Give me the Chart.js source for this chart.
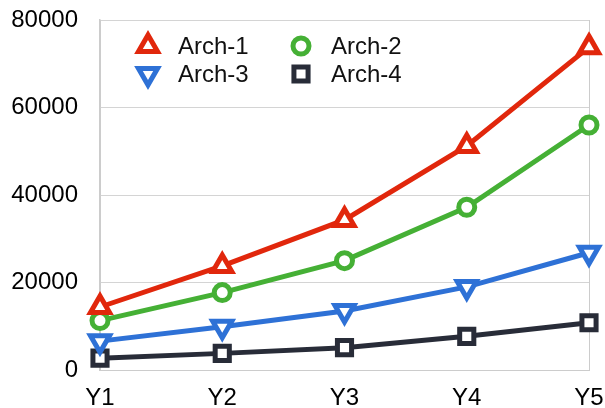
<!DOCTYPE html>
<html><head><meta charset="utf-8">
<script src="https://cdn.jsdelivr.net/npm/chart.js@4/dist/chart.umd.min.js"></script>
<style>html,body{margin:0;padding:0;background:#fff}#wrap{width:605px;height:408px}</style>
</head><body><div id="wrap"><canvas id="c" width="605" height="408"></canvas></div>
<script>
const categories = ['Y1', 'Y2', 'Y3', 'Y4', 'Y5'];
const seriesLabels = ['Arch-1', 'Arch-2', 'Arch-3', 'Arch-4'];
const arch1 = [14400, 23800, 34300, 51200, 73800];
const arch2 = [11300, 17700, 25000, 37200, 56000];
const arch3 = [6600, 9900, 13500, 19000, 26800];
const arch4 = [2700, 3800, 5100, 7700, 10800];
const yTickValues = [0, 20000, 40000, 60000, 80000];

const FONT = '"Liberation Sans", Arial, Helvetica, sans-serif';
const colors = ['#e1270c', '#45b035', '#2e71d6', '#282c38'];

function ds(label, data, color, style, radius, rotation) {
  return {
    label, data,
    borderColor: color, backgroundColor: color,
    borderWidth: 5, tension: 0,
    pointStyle: style, pointRadius: radius, pointHoverRadius: radius,
    pointRotation: rotation,
    pointBorderColor: color, pointBackgroundColor: '#ffffff', pointBorderWidth: 5,
    clip: false
  };
}

const insetLegend = {
  id: 'insetLegend',
  afterDraw(chart) {
    const ctx = chart.ctx, a = chart.chartArea;
    const colX = [a.left + 48, a.left + 201];
    const rowY = [a.top + 26, a.top + 54];
    const H = Chart.helpers;
    chart.data.datasets.forEach((d, i) => {
      const x = colX[i % 2], y = rowY[Math.floor(i / 2)];
      ctx.save();
      ctx.strokeStyle = d.pointBorderColor;
      ctx.fillStyle = d.pointBackgroundColor;
      ctx.lineWidth = d.pointBorderWidth;
      if (H && H.drawPoint) {
        H.drawPoint(ctx, {pointStyle: d.pointStyle, radius: d.pointRadius, rotation: d.pointRotation || 0, borderWidth: d.pointBorderWidth}, x, y);
      }
      ctx.fillStyle = '#111';
      ctx.font = '24px ' + FONT;
      ctx.textBaseline = 'middle';
      ctx.textAlign = 'left';
      ctx.fillText(d.label, x + 30, y + 1);
      ctx.restore();
    });
  }
};

new Chart(document.getElementById('c'), {
  type: 'line',
  data: {
    labels: categories,
    datasets: [
      ds(seriesLabels[0], arch1, colors[0], 'triangle', 11, 0),
      ds(seriesLabels[1], arch2, colors[1], 'circle', 8, 0),
      ds(seriesLabels[2], arch3, colors[2], 'triangle', 11, 180),
      ds(seriesLabels[3], arch4, colors[3], 'rect', 10, 0)
    ]
  },
  options: {
    responsive: false,
    animation: false,
    layout: {padding: {top: 20, right: 16, left: 0, bottom: 0}},
    plugins: {legend: {display: false}, tooltip: {enabled: false}},
    scales: {
      x: {
        offset: false,
        grid: {
          drawTicks: false,
          color: c => (c.index === 0 || c.index === categories.length - 1) ? '#cccccc' : 'rgba(0,0,0,0)',
          lineWidth: 1
        },
        border: {display: true, color: '#cccccc', width: 1},
        ticks: {font: {family: FONT, size: 24}, color: '#000', padding: 14, maxRotation: 0, autoSkip: false},
        afterFit: s => { s.height = 38; s.paddingLeft = 0; s.paddingRight = 0; }
      },
      y: {
        min: 0, max: 80000,
        afterBuildTicks: s => { s.ticks = yTickValues.map(v => ({value: v})); },
        grid: {drawTicks: false, color: '#d4d4d4', lineWidth: 1},
        border: {display: true, color: '#cccccc', width: 1.5},
        ticks: {font: {family: FONT, size: 24}, color: '#000', padding: 22, callback: v => String(v)},
        afterFit: s => { s.width = 100; s.paddingTop = 0; s.paddingBottom = 0; }
      }
    }
  },
  plugins: [insetLegend]
});
</script>
</body></html>
